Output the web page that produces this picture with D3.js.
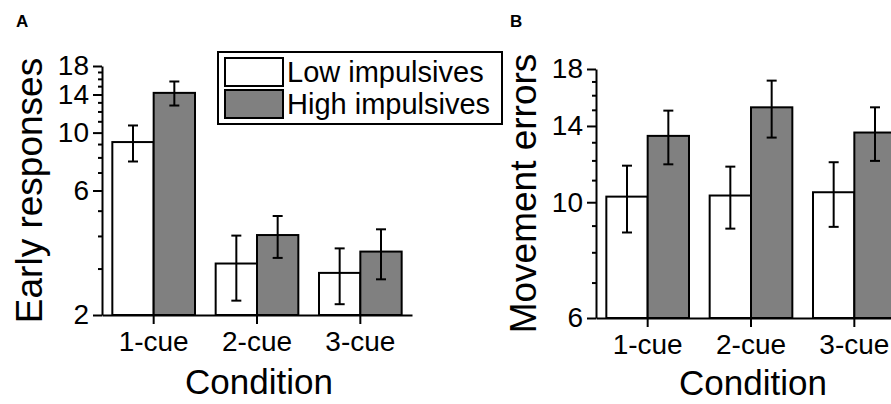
<!DOCTYPE html>
<html>
<head>
<meta charset="utf-8">
<script src="https://cdn.jsdelivr.net/npm/d3@7"></script>
<style>
  body { margin: 0; background: #fff; }
  svg { display: block; font-family: "Liberation Sans", Arial, sans-serif; }
</style>
</head>
<body>
<div id="chart"></div>
<script>
// data
var conditions = ['1-cue', '2-cue', '3-cue'];
var groups = ['Low impulsives', 'High impulsives'];

var earlyLow = [9.2, 3.15, 2.9];
var earlyLowErr = [1.45, 0.88, 0.7];
var earlyHigh = [14.2, 4.05, 3.5];
var earlyHighErr = [1.5, 0.74, 0.76];

var moveLow = [10.25, 10.3, 10.45];
var moveLowErr = [1.5, 1.4, 1.48];
var moveHigh = [13.4, 15.2, 13.6];
var moveHighErr = [1.58, 1.9, 1.6];

var earlyTicks = [2, 6, 10, 14, 18];
var moveTicks = [6, 10, 14, 18];

var groupFill = ['#ffffff', '#808080'];

var svg = d3.select('#chart').append('svg')
  .attr('width', 891)
  .attr('height', 404);

// one bar panel on a log y axis
function drawPanel(p) {
  var g = svg.append('g');

  var x = d3.scaleBand().domain(conditions)
    .range([p.x0, p.x1]).paddingInner(0.2).paddingOuter(0.1);
  var xg = d3.scaleBand().domain(groups).range([0, x.bandwidth()]);
  var y = d3.scaleLog().domain(p.domain).range([p.bottom, p.top]);

  var rows = [];
  conditions.forEach(function (c, i) {
    rows.push({ c: c, g: groups[0], v: p.low[i], e: p.lowErr[i], fill: groupFill[0] });
    rows.push({ c: c, g: groups[1], v: p.high[i], e: p.highErr[i], fill: groupFill[1] });
  });

  g.selectAll('.bar').data(rows).enter().append('rect')
    .attr('class', 'bar')
    .attr('x', function (d) { return x(d.c) + xg(d.g); })
    .attr('width', xg.bandwidth())
    .attr('y', function (d) { return y(d.v); })
    .attr('height', function (d) { return p.bottom - y(d.v); })
    .attr('fill', function (d) { return d.fill; })
    .attr('stroke', '#000')
    .attr('stroke-width', 2);

  // error bars
  var eb = g.selectAll('.err').data(rows).enter().append('g').attr('class', 'err')
    .attr('stroke', '#000').attr('stroke-width', 2);
  function cx(d) { return x(d.c) + xg(d.g) + xg.bandwidth() / 2; }
  eb.append('line')
    .attr('x1', cx).attr('x2', cx)
    .attr('y1', function (d) { return y(d.v + d.e); })
    .attr('y2', function (d) { return y(d.v - d.e); });
  eb.append('line')
    .attr('x1', function (d) { return cx(d) - 5; }).attr('x2', function (d) { return cx(d) + 5; })
    .attr('y1', function (d) { return y(d.v + d.e); })
    .attr('y2', function (d) { return y(d.v + d.e); });
  eb.append('line')
    .attr('x1', function (d) { return cx(d) - 5; }).attr('x2', function (d) { return cx(d) + 5; })
    .attr('y1', function (d) { return y(d.v - d.e); })
    .attr('y2', function (d) { return y(d.v - d.e); });

  // y axis: major ticks with labels, minor ticks at every integer
  var minor = d3.range(p.domain[0] + 1, p.domain[1]).filter(function (v) {
    return p.ticks.indexOf(v) < 0;
  });
  var yAxis = g.append('g').attr('transform', 'translate(' + p.x0 + ',0)')
    .call(d3.axisLeft(y).tickValues(p.ticks).tickFormat(d3.format('d'))
      .tickSizeInner(9).tickSizeOuter(0).tickPadding(4));
  yAxis.select('.domain').attr('stroke-width', 2);
  yAxis.selectAll('.tick line').attr('stroke-width', 2);
  yAxis.selectAll('.tick text').attr('font-size', 28).attr('fill', '#000');
  g.selectAll('.minor').data(minor).enter().append('line')
    .attr('x1', p.x0 - 4).attr('x2', p.x0)
    .attr('y1', function (d) { return y(d); })
    .attr('y2', function (d) { return y(d); })
    .attr('stroke', '#000').attr('stroke-width', 2);

  // x axis
  var xAxis = g.append('g').attr('transform', 'translate(0,' + p.bottom + ')')
    .call(d3.axisBottom(x).tickSizeInner(9).tickSizeOuter(0).tickPadding(7));
  xAxis.select('.domain').attr('stroke-width', 2);
  xAxis.selectAll('.tick line').attr('stroke-width', 2);
  xAxis.selectAll('.tick text').attr('font-size', 28).attr('fill', '#000');

  // titles
  g.append('text')
    .attr('x', (p.x0 + p.x1) / 2 + 2).attr('y', p.condY)
    .attr('text-anchor', 'middle').attr('font-size', 35)
    .text('Condition');
  g.append('text')
    .attr('transform', 'translate(' + (p.x0 - 60) + ',' + ((p.top + p.bottom) / 2) + ') rotate(-90)')
    .attr('text-anchor', 'middle').attr('font-size', 37)
    .text(p.title);
  g.append('text')
    .attr('x', p.x0 - 86).attr('y', 27)
    .attr('font-size', 17).attr('font-weight', 'bold')
    .text(p.letter);
}

drawPanel({
  letter: 'A', title: 'Early responses',
  x0: 102, x1: 412, top: 66, bottom: 315, condY: 394,
  domain: [2, 18], ticks: earlyTicks,
  low: earlyLow, lowErr: earlyLowErr, high: earlyHigh, highErr: earlyHighErr
});

drawPanel({
  letter: 'B', title: 'Movement errors',
  x0: 596, x1: 906, top: 69, bottom: 318, condY: 395,
  domain: [6, 18], ticks: moveTicks,
  low: moveLow, lowErr: moveLowErr, high: moveHigh, highErr: moveHighErr
});

// legend
var legend = svg.append('g');
legend.append('rect')
  .attr('x', 218).attr('y', 52).attr('width', 284).attr('height', 72)
  .attr('fill', '#fff').attr('stroke', '#000').attr('stroke-width', 2);
var items = legend.selectAll('.item').data(groups).enter().append('g')
  .attr('transform', function (d, i) { return 'translate(225,' + (58 + i * 32) + ')'; });
items.append('rect')
  .attr('width', 58).attr('height', 28)
  .attr('fill', function (d, i) { return groupFill[i]; })
  .attr('stroke', '#000').attr('stroke-width', 2);
items.append('text')
  .attr('x', 62).attr('y', 24)
  .attr('font-size', 29)
  .text(function (d) { return d; });
</script>
</body>
</html>
